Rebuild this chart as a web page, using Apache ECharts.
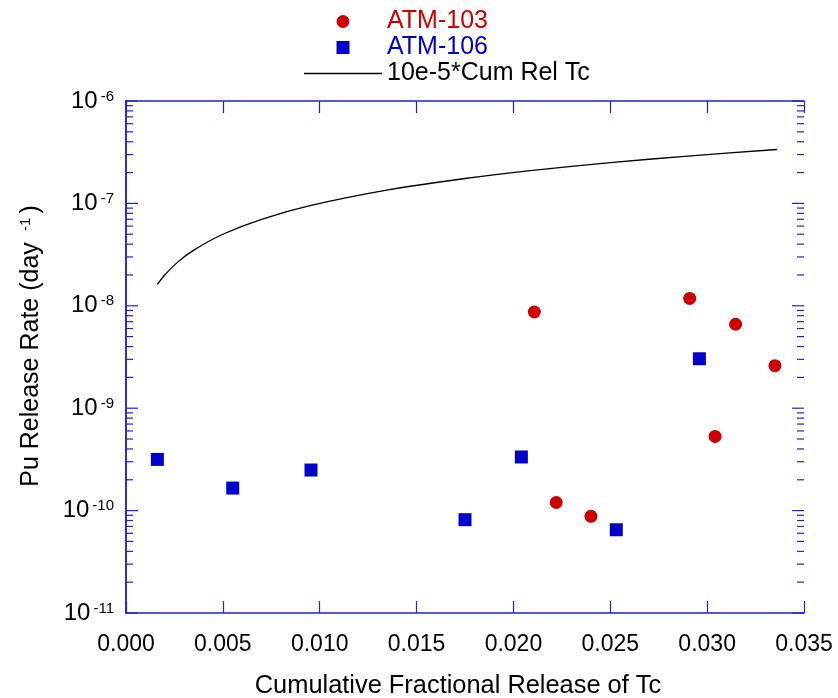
<!DOCTYPE html>
<html><head><meta charset="utf-8">
<script src="https://cdn.jsdelivr.net/npm/echarts@6/dist/echarts.min.js"></script>
<style>html,body{margin:0;padding:0;background:#fff}#c{width:838px;height:698px}</style>
</head><body><div id="c"></div>
<script>
// ---- data ----
const atm103X = [0.02108, 0.02221, 0.02400, 0.02910, 0.03041, 0.03147, 0.03350];
const atm103Y = [8.7e-9, 1.20e-10, 8.8e-11, 1.18e-8, 5.3e-10, 6.6e-9, 2.6e-9];
const atm106X = [0.00162, 0.00551, 0.00955, 0.01750, 0.02041, 0.02531, 0.02960];
const atm106Y = [3.16e-10, 1.66e-10, 2.49e-10, 8.15e-11, 3.34e-10, 6.5e-11, 3.04e-9];
const cumRelX = [0.00162, 0.0020, 0.0027, 0.0035, 0.0050, 0.0070, 0.0095, 0.0136, 0.0175, 0.0210, 0.0250, 0.0290, 0.0336];
const cumRelY = [1.62e-8, 2.0e-8, 2.7e-8, 3.5e-8, 5.0e-8, 7.0e-8, 9.5e-8, 1.36e-7, 1.75e-7, 2.1e-7, 2.5e-7, 2.9e-7, 3.36e-7];
const xTickLabels = ['0.000', '0.005', '0.010', '0.015', '0.020', '0.025', '0.030', '0.035'];
const yTickExponents = ['-11', '-10', '-9', '-8', '-7', '-6'];
const seriesNames = ['ATM-103', 'ATM-106', '10e-5*Cum Rel Tc'];

// ---- styling ----
const FONT = '"Liberation Sans", Arial, Helvetica, sans-serif';
const AXIS = '#1f1fd6';
const RED = '#cc0000';
const BLUE = '#0000cc';
const X_MIN = 0, X_MAX = 0.035, X_STEP = 0.005;
const Y_MIN = 1e-11, Y_MAX = 1e-6;

// log tick positions: majors at decades, minors at 2..9 x 10^k
const yTicks = [];
for (let k = -11; k <= -6; k++) {
  yTicks.push([Math.pow(10, k), 12]);
  if (k < -6) for (let m = 2; m <= 9; m++) yTicks.push([m * Math.pow(10, k), 7]);
}

const chart = echarts.init(document.getElementById('c'), null, {renderer: 'canvas'});

chart.setOption({
  animation: false,
  backgroundColor: '#fff',
  grid: {left: 126, right: 34, top: 101, bottom: 85, containLabel: false},
  legend: {
    orient: 'vertical', left: 304, top: 9, padding: 0,
    itemWidth: 78, itemHeight: 13, itemGap: 1, symbolKeepAspect: true,
    textStyle: {fontSize: 25, fontFamily: FONT, lineHeight: 25, color: '#000'},
    data: [
      {name: seriesNames[0], textStyle: {color: RED}},
      {name: seriesNames[1], textStyle: {color: BLUE}},
      {name: seriesNames[2], icon: 'path://M0,0L78,0L78,1.5L0,1.5Z', itemStyle: {color: '#000'}, textStyle: {color: '#000'}}
    ]
  },
  xAxis: [{
    type: 'value', min: X_MIN, max: X_MAX, interval: X_STEP,
    axisLine: {lineStyle: {color: AXIS, width: 1.5}},
    axisTick: {show: true, inside: true, length: 12, lineStyle: {color: AXIS, width: 1.2}},
    splitLine: {show: false},
    axisLabel: {
      margin: 20, color: '#000', fontSize: 23, fontFamily: FONT,
      formatter: (v) => xTickLabels[Math.round(v / X_STEP)]
    }
  }, {
    type: 'value', position: 'top', min: X_MIN, max: X_MAX, interval: X_STEP,
    axisLine: {lineStyle: {color: AXIS, width: 1.5}},
    axisTick: {show: true, inside: true, length: 12, lineStyle: {color: AXIS, width: 1.2}},
    axisLabel: {show: false}, splitLine: {show: false}
  }],
  yAxis: [{
    type: 'log', logBase: 10, min: Y_MIN, max: Y_MAX, splitNumber: 5,
    axisLine: {lineStyle: {color: AXIS, width: 1.5}},
    axisTick: {show: false}, splitLine: {show: false},
    axisLabel: {
      margin: 12, color: '#000', fontFamily: FONT,
      formatter: (v) => {
        const i = Math.round(Math.log10(v)) + 11;
        return '{b|10}{s|' + yTickExponents[i] + '}';
      },
      rich: {
        b: {fontSize: 24, fontFamily: FONT, color: '#000', verticalAlign: 'bottom'},
        s: {fontSize: 15, fontFamily: FONT, color: '#000', verticalAlign: 'top', padding: [0, 0, 0, 3]}
      }
    }
  }, {
    type: 'log', logBase: 10, position: 'right', min: Y_MIN, max: Y_MAX, splitNumber: 5,
    axisLine: {lineStyle: {color: AXIS, width: 1.5}},
    axisTick: {show: false}, axisLabel: {show: false}, splitLine: {show: false}
  }],
  graphic: [
    {type: 'text', x: 458, y: 686, style: {
      text: 'Cumulative Fractional Release of Tc', font: '25.4px ' + FONT, fill: '#000',
      textAlign: 'center', textVerticalAlign: 'middle'}},
    {type: 'text', x: 31, y: 346, rotation: Math.PI / 2, style: {
      text: '{a|Pu Release Rate (day }{s| -1 }{a|)}', fill: '#000',
      textAlign: 'center', textVerticalAlign: 'middle',
      rich: {
        a: {fontSize: 25, fontFamily: FONT, fill: '#000', verticalAlign: 'bottom'},
        s: {fontSize: 15, fontFamily: FONT, fill: '#000', verticalAlign: 'top'}
      }}}
  ],
  series: [
    {
      name: seriesNames[2], type: 'line', symbol: 'none', showSymbol: false,
      xAxisIndex: 0, yAxisIndex: 0, smooth: 0.3,
      lineStyle: {color: '#000', width: 1.3}, itemStyle: {color: '#000'},
      data: cumRelX.map((x, i) => [x, cumRelY[i]]), z: 3
    },
    {
      name: seriesNames[0], type: 'scatter', symbol: 'circle', symbolSize: 13,
      xAxisIndex: 0, yAxisIndex: 0,
      itemStyle: {color: RED, opacity: 1},
      data: atm103X.map((x, i) => [x, atm103Y[i]]), z: 4
    },
    {
      name: seriesNames[1], type: 'scatter', symbol: 'path://M0,0L10,0L10,10L0,10Z', symbolSize: 13,
      symbolKeepAspect: true, xAxisIndex: 0, yAxisIndex: 0,
      itemStyle: {color: BLUE, opacity: 1},
      data: atm106X.map((x, i) => [x, atm106Y[i]]), z: 4
    },
    {
      name: 'yTicks', type: 'custom', xAxisIndex: 0, yAxisIndex: 0, silent: true,
      encode: {x: 0, y: 1},
      data: yTicks.map(t => [X_MIN, t[0], t[1]]),
      renderItem: function (params, api) {
        const v = api.value(1);
        const len = api.value(2);
        const pl = api.coord([X_MIN, v]);
        const pr = api.coord([X_MAX, v]);
        return {type: 'group', children: [
          {type: 'line', shape: {x1: pl[0], y1: pl[1], x2: pl[0] + len, y2: pl[1]}, style: {stroke: AXIS, lineWidth: 1.2}},
          {type: 'line', shape: {x1: pr[0] - len, y1: pr[1], x2: pr[0], y2: pr[1]}, style: {stroke: AXIS, lineWidth: 1.2}}
        ]};
      },
      clip: false, z: 2
    }
  ]
});
</script>
</body></html>
